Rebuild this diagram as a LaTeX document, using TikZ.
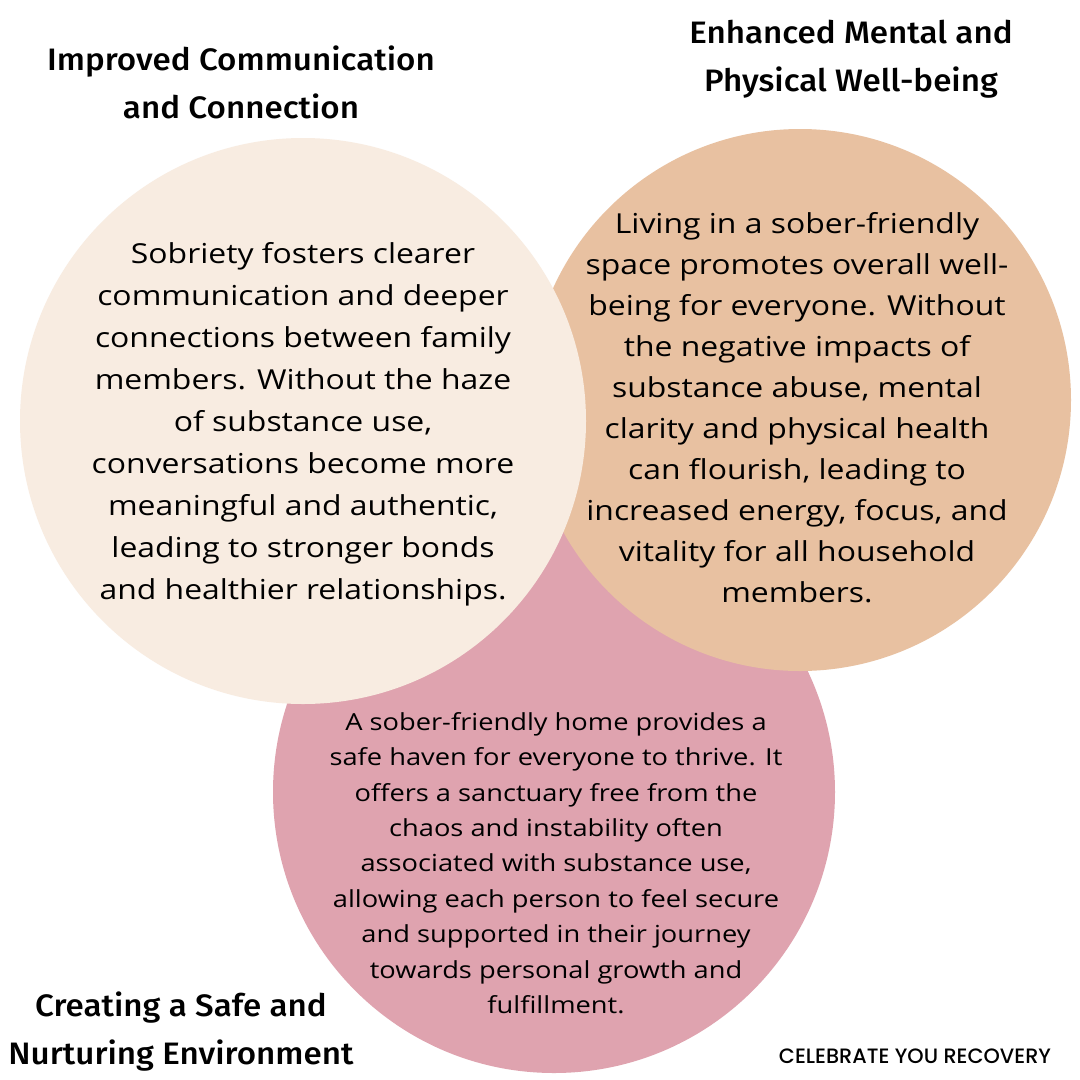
\documentclass[tikz,border=0pt]{standalone}
\usepackage{fontspec}
\setmainfont{Open Sans}[FakeStretch=1.16]
\newfontfamily\headfont{Fira Sans}[UprightFont={* Medium},FakeStretch=1.07]
\newfontfamily\footfont{Poppins}[UprightFont={* Medium}]
\definecolor{creamc}{HTML}{F8ECE1}
\definecolor{tanc}{HTML}{E8C1A1}
\definecolor{pinkc}{HTML}{DFA3AF}
\begin{document}
\begin{tikzpicture}[x=1pt,y=-1pt,
  bodytxt/.style={align=center,inner sep=0pt,text=black},
  headtxt/.style={align=center,inner sep=0pt,font=\headfont\fontsize{31}{48}\selectfont}]
\useasboundingbox[fill=white] (0,0) rectangle (1080,1080);
\fill[pinkc] (554,792) circle[radius=281];
\fill[tanc] (800,400) circle[radius=271];
\fill[creamc] (303,421) circle[radius=283];
\node[bodytxt,font=\fontsize{27.5}{42}\selectfont] (t1) at (303,424) {Sobriety fosters clearer\\communication and deeper\\connections between family\\members. Without the haze\\of substance use,\\conversations become more\\meaningful and authentic,\\leading to stronger bonds\\and healthier relationships.};
\node[bodytxt,font=\fontsize{27.5}{41}\selectfont] (t2) at (797,408) {Living in a sober-friendly\\space promotes overall well-\\being for everyone. Without\\the negative impacts of\\substance abuse, mental\\clarity and physical health\\can flourish, leading to\\increased energy, focus, and\\vitality for all household\\members.};
\node[bodytxt,font=\fontsize{23.5}{35.4}\selectfont] (t3) at (556,863) {A sober-friendly home provides a\\safe haven for everyone to thrive. It\\offers a sanctuary free from the\\chaos and instability often\\associated with substance use,\\allowing each person to feel secure\\and supported in their journey\\towards personal growth and\\fulfillment.};
\node[headtxt] (h1) at (241,82) {Improved Communication\\and Connection};
\node[headtxt] (h2) at (851,59) {Enhanced Mental and\\Physical Well-being};
\node[headtxt] (h3) at (181,1032) {Creating a Safe and\\Nurturing Environment};
\node[inner sep=0pt,font=\footfont\fontsize{20.8}{24}\selectfont] (ft) at (915,1056) {CELEBRATE YOU RECOVERY};
\end{tikzpicture}
\end{document}
